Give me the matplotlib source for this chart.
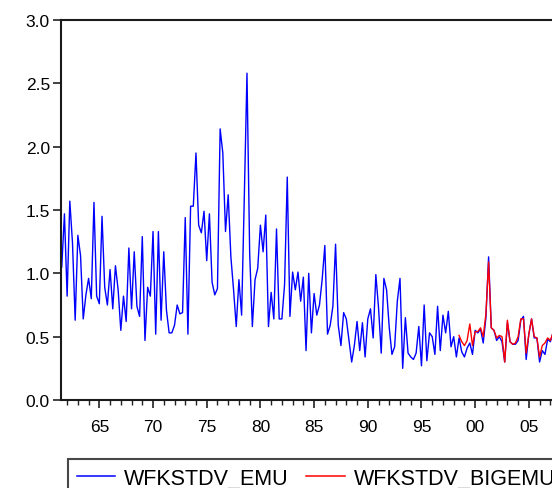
import matplotlib
matplotlib.use('Agg')
import matplotlib.pyplot as plt
from matplotlib.lines import Line2D
from matplotlib.ticker import MultipleLocator, FuncFormatter
import numpy as np

#================================================================================
#   DATA  (quarterly)
#================================================================================
EMU_START = 1961.5          # first quarter of WFKSTDV_EMU
BIGEMU_START = 1998.5       # first quarter of WFKSTDV_BIGEMU

emu_vals = [
    1.05, 1.47, 0.82, 1.57, 1.24, 0.63, 1.30, 1.14, 0.64, 0.83,
    0.96, 0.80, 1.56, 0.82, 0.76, 1.45, 0.89, 0.75, 1.03, 0.72,
    1.06, 0.87, 0.55, 0.82, 0.62, 1.20, 0.72, 1.17, 0.74, 0.66,
    1.29, 0.47, 0.89, 0.82, 1.33, 0.52, 1.33, 0.63, 1.17, 0.71,
    0.53, 0.53, 0.59, 0.75, 0.68, 0.69, 1.44, 0.52, 1.53, 1.53,
    1.95, 1.38, 1.32, 1.49, 1.10, 1.47, 0.93, 0.83, 0.88, 2.14,
    1.95, 1.33, 1.62, 1.13, 0.87, 0.58, 0.95, 0.67, 1.60, 2.58,
    1.16, 0.58, 0.95, 1.04, 1.38, 1.17, 1.46, 0.58, 0.85, 0.64,
    1.35, 0.64, 0.64, 0.91, 1.76, 0.66, 1.01, 0.87, 1.01, 0.78,
    0.97, 0.39, 1.00, 0.53, 0.84, 0.67, 0.75, 0.95, 1.22, 0.52,
    0.59, 0.74, 1.23, 0.59, 0.43, 0.69, 0.64, 0.47, 0.30, 0.43,
    0.62, 0.39, 0.61, 0.34, 0.64, 0.72, 0.49, 0.99, 0.73, 0.37,
    0.96, 0.87, 0.57, 0.36, 0.42, 0.78, 0.96, 0.25, 0.65, 0.37,
    0.34, 0.32, 0.37, 0.58, 0.27, 0.75, 0.31, 0.53, 0.50, 0.36,
    0.74, 0.39, 0.67, 0.53, 0.70, 0.42, 0.50, 0.34, 0.49, 0.38,
    0.34, 0.41, 0.45, 0.36, 0.55, 0.53, 0.56, 0.45, 0.65, 1.13,
    0.57, 0.55, 0.47, 0.50, 0.46, 0.30, 0.61, 0.46, 0.44, 0.44,
    0.47, 0.63, 0.66, 0.32, 0.52, 0.64, 0.49, 0.49, 0.30, 0.39,
    0.36, 0.48, 0.46, 0.53,
]

bigemu_vals = [
    0.51, 0.46, 0.43, 0.47, 0.60, 0.43, 0.54, 0.54, 0.57, 0.50,
    0.68, 1.09, 0.57, 0.55, 0.49, 0.51, 0.50, 0.30, 0.63, 0.46,
    0.44, 0.45, 0.50, 0.64, 0.64, 0.37, 0.52, 0.64, 0.50, 0.49,
    0.34, 0.43, 0.45, 0.49, 0.47, 0.53,
]

series_names = ['WFKSTDV_EMU', 'WFKSTDV_BIGEMU']
series_colors = ['#0000ff', '#ff0000']

#================================================================================
#   Helpers
#================================================================================
def quarters(start, n):
    return start + 0.25 * np.arange(n)

def year_label(x, pos):
    return '%02d' % (int(round(x)) % 100)

#================================================================================
#   MAIN
#================================================================================
def main():
    plt.rcParams['font.family'] = ['Liberation Sans', 'DejaVu Sans']

    fig = plt.figure(figsize=(5.52, 4.89), dpi=100)
    ax = fig.add_axes([61 / 552, 88 / 489, 499 / 552, 380 / 489])

    ax.plot(quarters(EMU_START, len(emu_vals)), emu_vals,
            color=series_colors[0], lw=1.0)
    ax.plot(quarters(BIGEMU_START, len(bigemu_vals)), bigemu_vals,
            color=series_colors[1], lw=1.0)

    ax.set_xlim(1961.43, 2007.9)
    ax.set_ylim(0.0, 3.0)

    ax.xaxis.set_major_locator(MultipleLocator(5))
    ax.xaxis.set_minor_locator(MultipleLocator(1))
    ax.xaxis.set_major_formatter(FuncFormatter(year_label))
    ax.yaxis.set_major_locator(MultipleLocator(0.5))
    ax.yaxis.set_major_formatter(FuncFormatter(lambda v, p: '%.1f' % v))

    ax.tick_params(axis='both', which='major', direction='out', length=6,
                   width=1.2, labelsize=12.5, color='#222222')
    ax.tick_params(axis='x', which='minor', direction='out', length=3.5,
                   width=1.0, color='#222222')
    ax.tick_params(axis='x', which='major', pad=8)
    ax.tick_params(axis='y', which='major', pad=2)
    ax.tick_params(top=False, right=False)

    for side in ['left', 'bottom', 'top', 'right']:
        ax.spines[side].set_linewidth(1.5)
        ax.spines[side].set_color('#1a1a1a')

    #===================== legend box at the bottom =====================#
    handles = [Line2D([], [], color=c, lw=1.1) for c in series_colors]
    leg = fig.legend(handles, series_names, loc='upper left',
                     bbox_to_anchor=(68 / 552, 1 - 460 / 489), ncol=2,
                     fontsize=15.5, frameon=True, fancybox=False,
                     handlelength=1.8, handletextpad=0.42,
                     columnspacing=0.8, borderpad=0.4, borderaxespad=0)
    leg.get_frame().set_edgecolor('#1a1a1a')
    leg.get_frame().set_linewidth(1.5)

    fig.savefig('out.png', dpi=100)

if __name__ == '__main__':
    main()
